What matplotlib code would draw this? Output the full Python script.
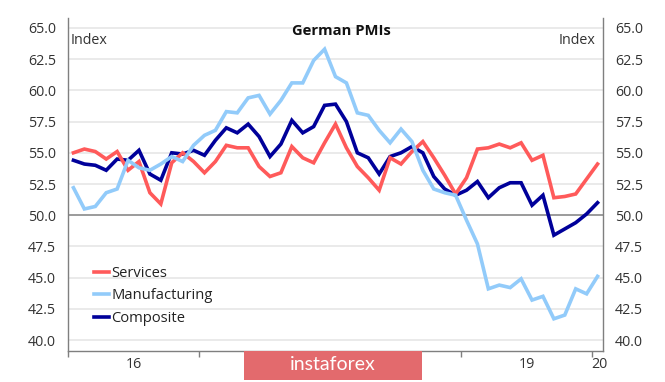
import matplotlib
matplotlib.use("Agg")
import matplotlib.pyplot as plt
from matplotlib.patches import Rectangle

# ---- data: monthly German PMIs, Jan 2016 .. Jan 2020 ----
services = [55.0, 55.3, 55.1, 54.5, 55.1, 53.6, 54.3, 51.8, 50.9, 54.2, 55.0, 54.3,
            53.4, 54.3, 55.6, 55.4, 55.4, 53.9, 53.1, 53.4, 55.5, 54.6, 54.2, 55.8,
            57.3, 55.4, 53.9, 53.0, 52.0, 54.6, 54.1, 55.1, 55.9, 54.6, 53.2, 51.7,
            53.0, 55.3, 55.4, 55.7, 55.4, 55.8, 54.4, 54.8, 51.4, 51.5, 51.7, 52.9,
            54.1]
manufacturing = [52.2, 50.5, 50.7, 51.8, 52.1, 54.4, 53.8, 53.6, 54.1, 54.7, 54.3, 55.6,
                 56.4, 56.8, 58.3, 58.2, 59.4, 59.6, 58.1, 59.2, 60.6, 60.6, 62.4, 63.3,
                 61.1, 60.6, 58.2, 58.0, 56.8, 55.8, 56.9, 55.9, 53.6, 52.1, 51.8, 51.6,
                 49.6, 47.7, 44.1, 44.4, 44.2, 44.9, 43.2, 43.5, 41.7, 42.0, 44.1, 43.7,
                 45.1]
composite = [54.4, 54.1, 54.0, 53.6, 54.5, 54.4, 55.2, 53.3, 52.8, 55.0, 54.9, 55.2,
             54.8, 56.0, 57.0, 56.6, 57.3, 56.3, 54.7, 55.7, 57.6, 56.6, 57.1, 58.8,
             58.9, 57.5, 55.0, 54.6, 53.3, 54.7, 55.0, 55.5, 55.0, 53.1, 52.1, 51.6,
             52.0, 52.7, 51.4, 52.2, 52.6, 52.6, 50.8, 51.6, 48.4, 48.9, 49.4, 50.1,
             51.0]
year_labels = ["16", "17", "18", "19", "20"]
year_label_pos = [5.5, 17.5, 29.5, 41.5, 48.2]
year_bounds = [-0.5, 11.5, 23.5, 35.5, 47.5]
y_ticks = [40.0, 42.5, 45.0, 47.5, 50.0, 52.5, 55.0, 57.5, 60.0, 62.5, 65.0]

FONT = ["Open Sans", "DejaVu Sans"]
plt.rcParams["font.family"] = FONT

fig = plt.figure(figsize=(6.65, 3.82), dpi=100)
ax = fig.add_axes([68 / 665, 1 - 351 / 382, (603 - 68) / 665, (351 - 18) / 382])

x = list(range(len(services)))
ax.plot(x, composite, color="#00009A", lw=2.6, zorder=3, label="Composite",
        solid_joinstyle="miter")
ax.plot(x, services, color="#FF5A5A", lw=2.6, zorder=4, label="Services",
        solid_joinstyle="miter")
ax.plot(x, manufacturing, color="#92CBFA", lw=2.6, zorder=5, label="Manufacturing",
        solid_joinstyle="miter")

ax.set_xlim(-0.5, 48.5)
ax.set_ylim(39.12, 65.8)

# grid
for v in y_ticks:
    if v == 50.0:
        ax.axhline(v, color="#808080", lw=1.1, zorder=2)
    else:
        ax.axhline(v, color="#E8E8E8", lw=1.3, zorder=1)

ax.set_yticks(y_ticks)
ax.set_yticklabels([f"{v:.1f}" for v in y_ticks])
ax.tick_params(axis="y", left=False, right=False, labelleft=True, labelright=True,
               labelsize=10.3, labelcolor="#333333", pad=5)

ax.set_xticks(year_bounds)
ax.set_xticklabels([])
ax.set_xticks(year_label_pos, minor=True)
ax.set_xticklabels(year_labels, minor=True)
ax.tick_params(axis="x", which="major", length=4, width=1, color="#7F7F7F", direction="out")
ax.tick_params(axis="x", which="minor", length=0, labelsize=10.3, labelcolor="#333333", pad=4)

for s in ["left", "right", "bottom"]:
    ax.spines[s].set_color("#7F7F7F")
    ax.spines[s].set_linewidth(1.0)
ax.spines["top"].set_visible(False)

# legend
handles, labels = ax.get_legend_handles_labels()
order = [1, 2, 0]
leg = ax.legend([handles[i] for i in order], [labels[i] for i in order],
                loc="upper left", bbox_to_anchor=(94 / 665, 1 - 266 / 382),
                bbox_transform=fig.transFigure, frameon=False, fontsize=10.6,
                handlelength=1.02, handletextpad=0.15, labelspacing=0.5,
                borderpad=0, borderaxespad=0)
for t in leg.get_texts():
    t.set_color("#222222")

# title and axis captions
fig.text(341 / 665, 1 - 31 / 382, "German PMIs", ha="center", va="center",
         fontsize=10.6, fontweight="bold", color="#111111")
fig.text(71 / 665, 1 - 41 / 382, "Index", ha="left", va="center", fontsize=10.3,
         color="#333333")
fig.text(595 / 665, 1 - 40 / 382, "Index", ha="right", va="center", fontsize=10.3,
         color="#333333")

# watermark
wax = fig.add_axes([0, 0, 1, 1], zorder=10)
wax.set_xlim(0, 665)
wax.set_ylim(382, 0)
wax.axis("off")
wax.add_patch(Rectangle((244, 351), 178, 29, facecolor="#E36A6D", edgecolor="none"))
wax.text(333, 364.5, "instaforex", ha="center", va="center", color="white",
         fontsize=14, family=["Lato", "DejaVu Sans"])

fig.savefig("out.png", dpi=100)
